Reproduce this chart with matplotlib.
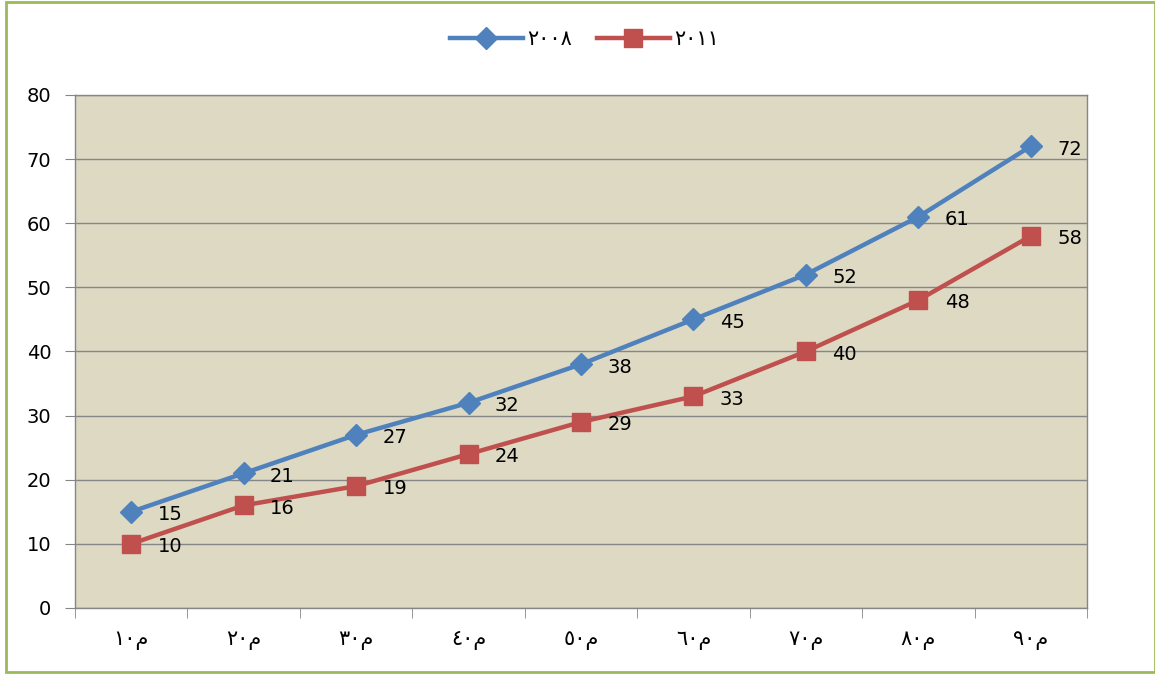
import numpy as np
import matplotlib
matplotlib.use("Agg")
import matplotlib.pyplot as plt
from matplotlib.patches import Rectangle

plt.rcParams['font.family'] = ['DejaVu Sans']

# category labels written in visual order (matplotlib has no bidi)
cats = ["\u0661\u0660\u0645", "\u0662\u0660\u0645", "\u0663\u0660\u0645",
        "\u0664\u0660\u0645", "\u0665\u0660\u0645", "\u0666\u0660\u0645",
        "\u0667\u0660\u0645", "\u0668\u0660\u0645", "\u0669\u0660\u0645"]
s2008 = [15, 21, 27, 32, 38, 45, 52, 61, 72]
s2011 = [10, 16, 19, 24, 29, 33, 40, 48, 58]
lab2008 = "\u0662\u0660\u0660\u0668"
lab2011 = "\u0662\u0660\u0661\u0661"

fig = plt.figure(figsize=(11.55, 6.75), dpi=100)
ax = fig.add_axes([0.0649, 0.0993, 0.8762, 0.76])
ax.set_facecolor('#DDD9C3')

x = np.arange(len(cats))
ax.plot(x, s2008, '-', color='#4F81BD', lw=3.2, marker='D', ms=11,
        mfc='#4F81BD', mec='#4F81BD', label=lab2008, zorder=3)
ax.plot(x, s2011, '-', color='#C0504D', lw=3.2, marker='s', ms=13,
        mfc='#C0504D', mec='#C0504D', label=lab2011, zorder=3)

for xi, v in zip(x, s2008):
    ax.annotate(str(v), (xi, v), xytext=(19, -2), textcoords='offset points',
                ha='left', va='center', fontsize=14)
for xi, v in zip(x, s2011):
    ax.annotate(str(v), (xi, v), xytext=(19, -2), textcoords='offset points',
                ha='left', va='center', fontsize=14)

ax.set_xlim(-0.5, len(cats) - 0.5)
ax.set_ylim(0, 80)
ax.set_yticks(np.arange(0, 81, 10))
ax.yaxis.grid(True, color='#868686', lw=1)
ax.set_axisbelow(True)

ax.set_xticks(x)
ax.set_xticklabels(cats, fontsize=15)
ax.set_xticks(np.arange(-0.5, len(cats), 1), minor=True)
ax.tick_params(axis='x', which='major', length=0, pad=16)
ax.tick_params(axis='x', which='minor', length=7, color='#868686', direction='out')
ax.tick_params(axis='y', length=7, color='#868686', labelsize=14, pad=10)

for sp in ax.spines.values():
    sp.set_color('#868686')
    sp.set_linewidth(1)

fig.legend(loc='upper center', bbox_to_anchor=(0.506, 0.985), ncol=2,
           frameon=False, fontsize=15, handlelength=3.5, columnspacing=1.2,
           handletextpad=0.2)

fig.patches.append(Rectangle((0.005, 0.004), 0.995, 0.993, transform=fig.transFigure,
                             fill=False, edgecolor='#9BBB59', lw=2))

fig.savefig("out.png", dpi=100)
